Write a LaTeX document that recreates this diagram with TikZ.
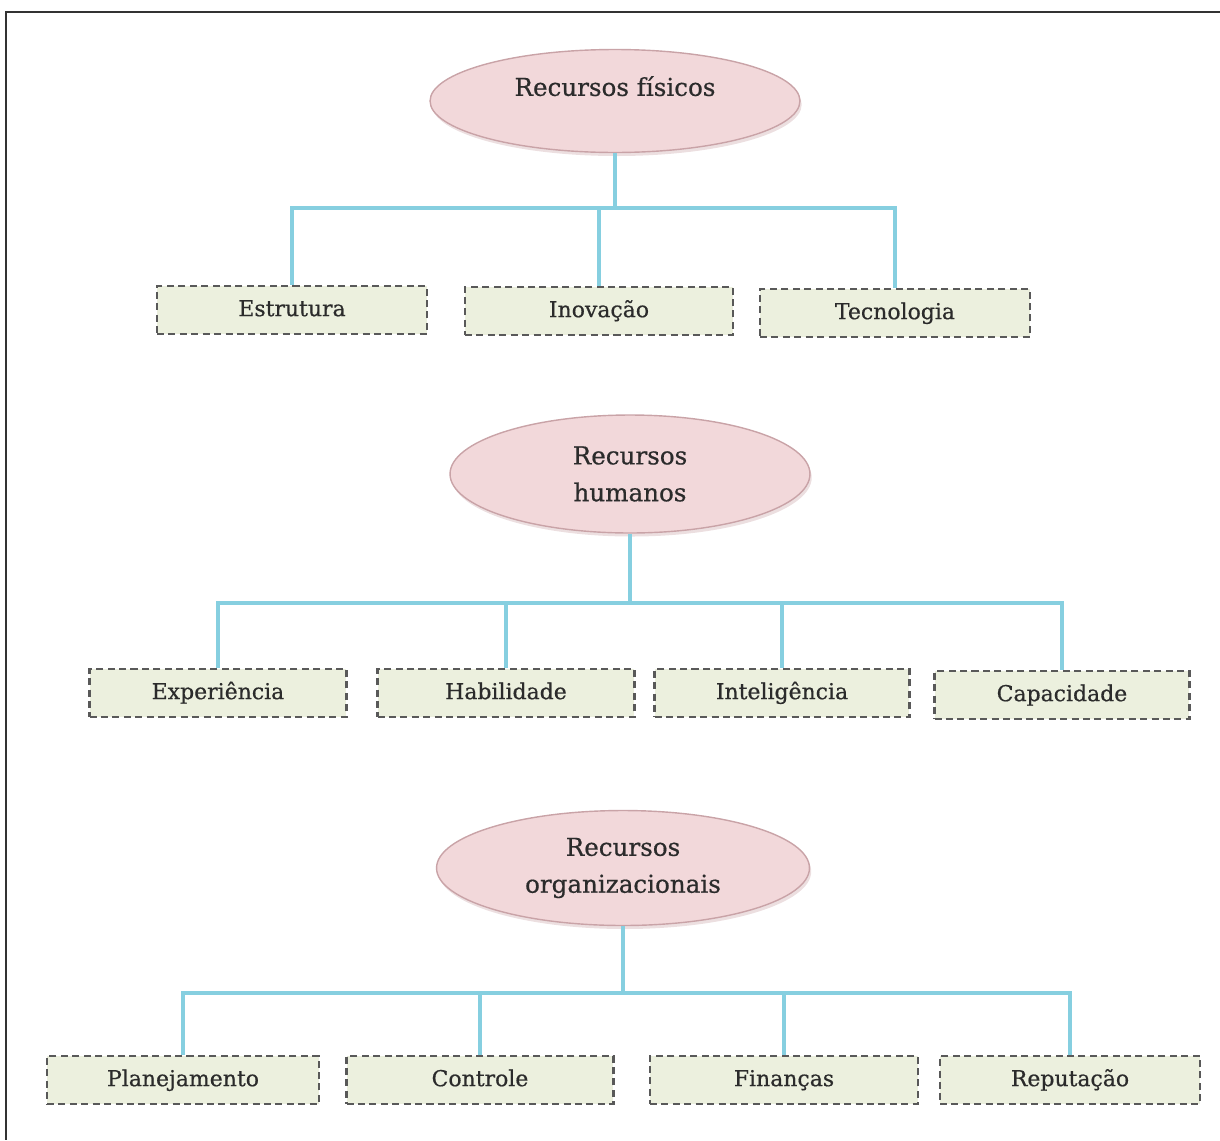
\documentclass[tikz,border=0pt]{standalone}
\usepackage{fontspec}
\setmainfont{DejaVu Serif}
\newfontfamily\rotulo[UprightFeatures={FakeBold=0.6}]{DejaVu Serif}
\usetikzlibrary{shapes.geometric,shadows}

\definecolor{rosa}{HTML}{F2D8DA}
\definecolor{borda}{HTML}{C9A3A7}
\definecolor{verde}{HTML}{ECF0DE}
\definecolor{azul}{HTML}{86CFE0}
\definecolor{tinta}{HTML}{2B2B2B}

\tikzset{
    grupo/.style={ellipse,draw=borda,line width=0.8pt,fill=rosa,align=center,text=tinta,
        font=\rotulo\fontsize{14}{21}\selectfont,
        drop shadow={shadow xshift=1pt,shadow yshift=-2pt,opacity=0.35,fill=borda}},
    item/.style={rectangle,draw=black!65,dash pattern=on 4pt off 2.5pt,line width=1.5pt,
        fill=verde,minimum height=0.96cm,text height=1.8ex,text depth=0.45ex,text=tinta,
        font=\rotulo\fontsize{12.5}{15}\selectfont},
    liga/.style={azul,line width=1.8pt}
}

\begin{document}
\begin{tikzpicture}[x=0.02cm,y=-0.02cm]
    \useasboundingbox(0,0)rectangle(1220,1140);
    \draw[black!80,line width=1.5pt](1220,12)--(6,12)--(6,1140);

    % recursos fisicos
    \node[grupo,minimum width=7.4cm,minimum height=2.06cm,text depth=0.6cm](fis)at(615,101){Recursos físicos};
    \node[item,minimum width=5.4cm](estr)at(292,310){Estrutura};
    \node[item,minimum width=5.36cm](inov)at(599,311){Inovação};
    \node[item,minimum width=5.4cm](tec)at(895,313){Tecnologia};

    \coordinate(b1)at(0,208);
    \draw[liga](fis.south)--(fis.south|-b1);
    \draw[liga](estr.north)--(estr.north|-b1)--(tec.north|-b1)--(tec.north);
    \draw[liga](inov.north)--(inov.north|-b1);

    % recursos humanos
    \node[grupo,minimum width=7.2cm,minimum height=2.36cm](hum)at(630,474){Recursos\\humanos};
    \node[item,minimum width=5.14cm](exp)at(218,693){Experiência};
    \node[item,minimum width=5.14cm](hab)at(506,693){Habilidade};
    \node[item,minimum width=5.1cm](int)at(782,693){Inteligência};
    \node[item,minimum width=5.1cm](cap)at(1062,695){Capacidade};

    \coordinate(b2)at(0,603);
    \draw[liga](hum.south)--(hum.south|-b2);
    \draw[liga](exp.north)--(exp.north|-b2)--(cap.north|-b2)--(cap.north);
    \draw[liga](hab.north)--(hab.north|-b2);
    \draw[liga](int.north)--(int.north|-b2);

    % recursos organizacionais
    \node[grupo,minimum width=7.46cm,minimum height=2.3cm](org)at(623,868){Recursos\\organizacionais};
    \node[item,minimum width=5.44cm](plan)at(183,1080){Planejamento};
    \node[item,minimum width=5.34cm](contr)at(480,1080){Controle};
    \node[item,minimum width=5.36cm](fin)at(784,1080){Finanças};
    \node[item,minimum width=5.2cm](rep)at(1070,1080){Reputação};

    \coordinate(b3)at(0,993);
    \draw[liga](org.south)--(org.south|-b3);
    \draw[liga](plan.north)--(plan.north|-b3)--(rep.north|-b3)--(rep.north);
    \draw[liga](contr.north)--(contr.north|-b3);
    \draw[liga](fin.north)--(fin.north|-b3);
\end{tikzpicture}
\end{document}
